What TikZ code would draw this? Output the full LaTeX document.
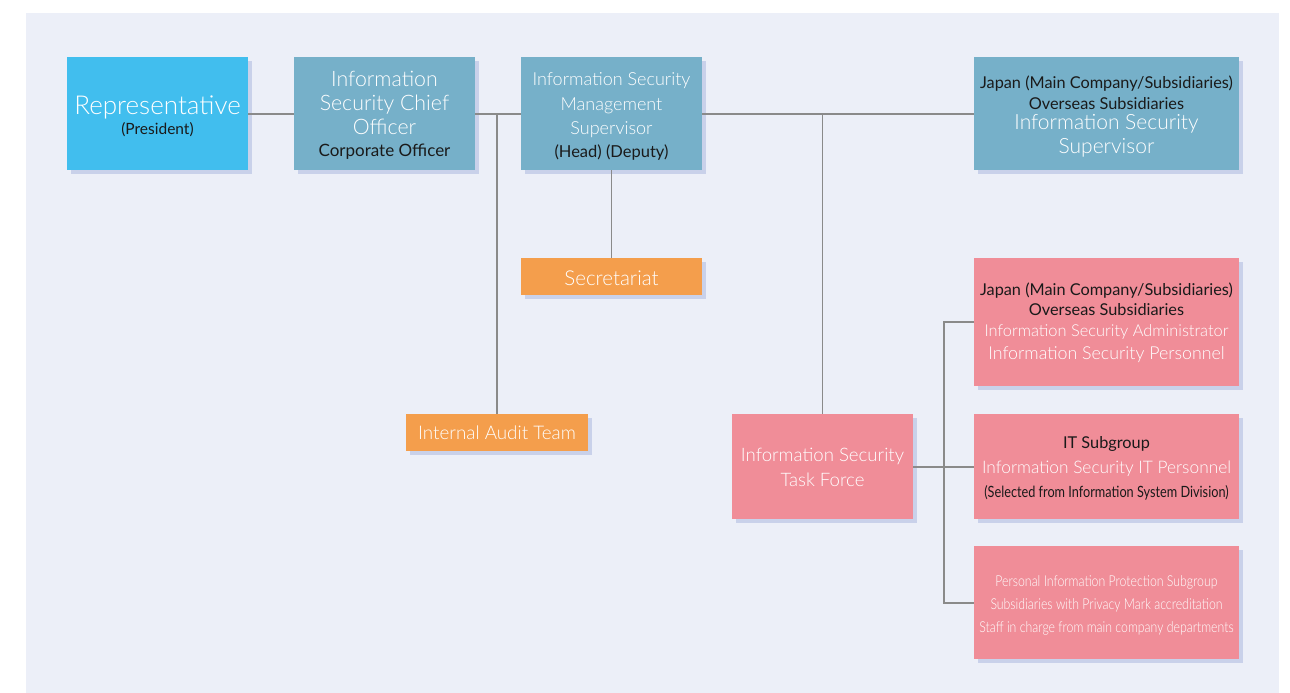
\documentclass[tikz,border=0pt]{standalone}
\usepackage{fontspec}
\setmainfont{Lato}
\newfontfamily\lightfont{Lato Light}
\newfontfamily\condfont[FakeStretch=0.82]{Lato}
\newfontfamily\condlight[FakeStretch=0.82]{Lato Light}
\usetikzlibrary{shadows}
\definecolor{bgc}{HTML}{ECEFF8}
\definecolor{shc}{HTML}{C9D1EA}
\definecolor{repc}{HTML}{41BEEE}
\definecolor{tealc}{HTML}{76B0C9}
\definecolor{orangec}{HTML}{F49E4C}
\definecolor{pinkc}{HTML}{F08D98}
\definecolor{linec}{HTML}{8A8A8A}
\definecolor{txtk}{HTML}{1A1A1A}
\newcommand\fsz[2]{\fontsize{#1}{#2}\selectfont}
\tikzset{
  orgbox/.style={inner sep=0pt, align=center, text=white, text depth=0pt,
    general shadow={fill=shc, shadow xshift=4pt, shadow yshift=-4pt}},
  sz/.style 2 args={minimum width=#1pt, minimum height=#2pt},
  teal/.style={orgbox, fill=tealc},
  orange/.style={orgbox, fill=orangec},
  pink/.style={orgbox, fill=pinkc},
  conn/.style={draw=linec, line width=2pt},
  thin conn/.style={draw=linec, line width=1.3pt},
}
\begin{document}
\begin{tikzpicture}[x=1pt,y=-1pt]
\useasboundingbox (0,0) rectangle (1290,693);
\fill[bgc] (26,13) rectangle (1279,693);

\node[orgbox, fill=repc, sz={181}{113}, text height=41pt, font=\lightfont\fsz{26}{23}] (rep) at (157.5,113.5)
  {Representative\\[-3pt]{\color{txtk}\normalfont\fsz{15.5}{16}(President)}};
\node[teal, sz={181}{113}, text height=86.2pt, font=\lightfont\fsz{21.3}{24}] (isco) at (384.5,113.5)
  {Information\\Security Chief\\Officer\\[-2pt]{\color{txtk}\normalfont\fsz{17}{16}Corporate Officer}};
\node[teal, sz={181}{113}, text height=87.8pt, font=\lightfont\fsz{18}{24}] (isms) at (611.5,113.5)
  {Information Security\\[1pt]Management\\Supervisor\\[-1pt]{\color{txtk}\normalfont\fsz{16.5}{16}(Head) (Deputy)}};
\node[teal, sz={265}{113}, text height=79.4pt, font=\fsz{16.3}{20}] (sup) at (1106.5,113.5)
  {{\color{txtk}Japan (Main Company/Subsidiaries)}\\[1pt]{\color{txtk}Overseas Subsidiaries}\\{\lightfont\fsz{21}{20}Information Security}\\[3.5pt]{\lightfont\fsz{21}{20}Supervisor}};
\node[orange, sz={181}{37}, text height=17pt, font=\lightfont\fsz{20.5}{20}] (sec) at (611.5,276.5) {Secretariat};
\node[orange, sz={182}{37}, text height=13.2pt, font=\lightfont\fsz{18.8}{20}] (audit) at (497,432.5) {Internal Audit Team};
\node[pink, sz={181}{105}, text height=39pt, font=\lightfont\fsz{18.6}{25}] (tf) at (822.5,466.5)
  {Information Security\\Task Force};
\node[pink, sz={265}{128}, text height=75.4pt, font=\fsz{16.3}{20}] (p1) at (1106.5,322)
  {{\color{txtk}Japan (Main Company/Subsidiaries)}\\{\color{txtk}Overseas Subsidiaries}\\[1pt]{\lightfont\fsz{16.4}{20}Information Security Administrator}\\[3pt]{\lightfont\fsz{17.8}{20}Information Security Personnel}};
\node[pink, sz={265}{105}, text height=61.2pt, font=\fsz{16.3}{24}] (p2) at (1106.5,466.5)
  {{\color{txtk}IT Subgroup}\\[1pt]{\lightfont\fsz{17.3}{20}Information Security IT Personnel}\\{\color{txtk}\condfont\fsz{15.5}{16}(Selected from Information System Division)}};
\node[pink, sz={265}{113}, text height=59.4pt, font=\condlight\fsz{15}{23}] (p3) at (1106.5,602.5)
  {Personal Information Protection Subgroup\\Subsidiaries with Privacy Mark accreditation\\Staff in charge from main company departments};

\coordinate (bx) at (944,466.5);
\draw[conn] (rep) -- (isco);
\draw[conn] (isco) -- (isms);
\draw[conn] (isms.east) -- (sup.west);
\draw[thin conn] (isms) -- (sec);
\draw[thin conn] (audit.north) -- (audit.north |- isco.east);
\draw[thin conn] (tf.north) -- (tf.north |- isms.east);
\draw[conn] (tf.east) -- (bx);
\draw[conn] (p1.west) -| (bx |- p3.west) -- (p3.west);
\draw[conn] (bx) -- (p2.west);
\end{tikzpicture}
\end{document}
